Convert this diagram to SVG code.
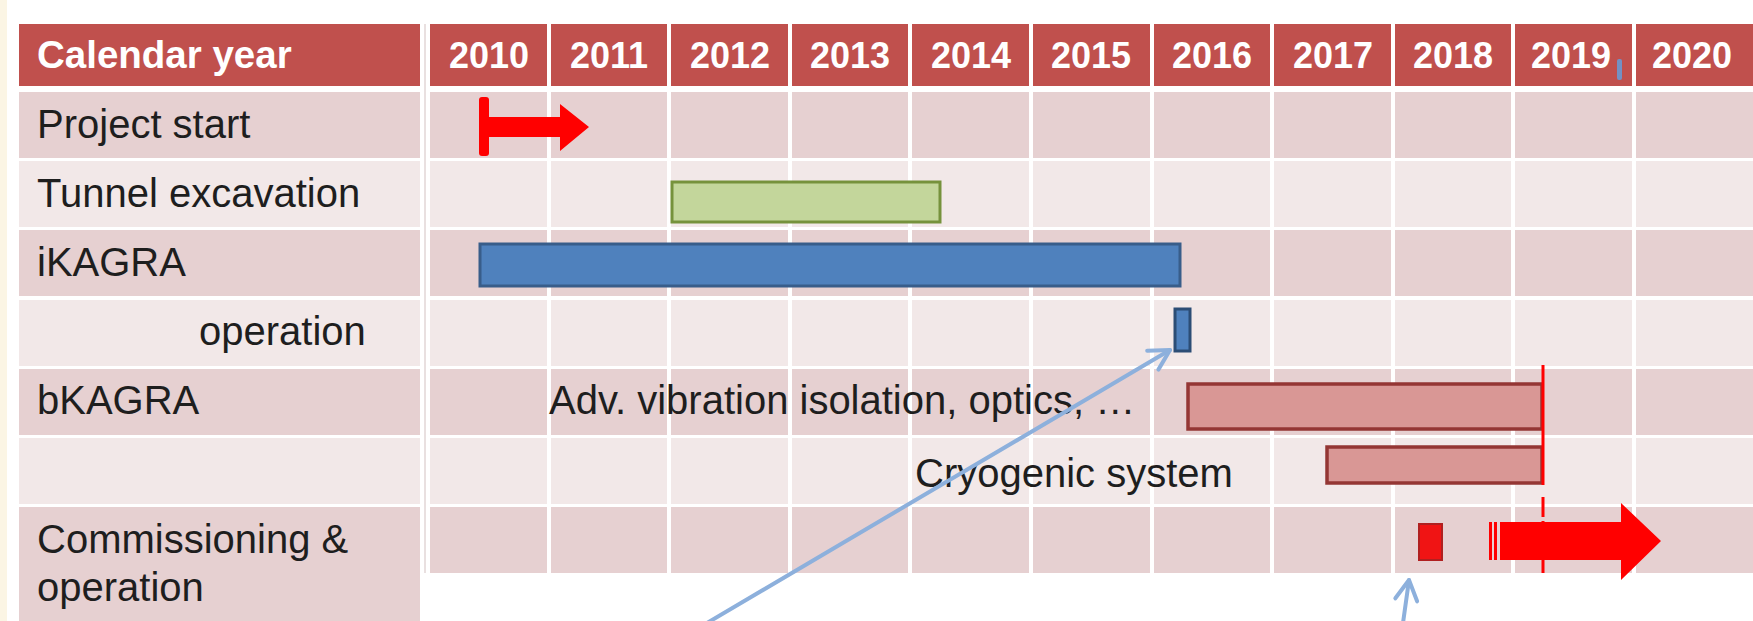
<svg xmlns="http://www.w3.org/2000/svg" width="1753" height="621" viewBox="0 0 1753 621">
<defs>
<style>
.hd{fill:#C0504D}
.dk{fill:#E6D0D1}
.lt{fill:#F2E8E8}
.ht{font-family:"Liberation Sans",Arial,sans-serif;font-weight:bold;font-size:38.5px;fill:#FFFFFF}
.yr{font-family:"Liberation Sans",Arial,sans-serif;font-weight:bold;font-size:36px;fill:#FFFFFF;text-anchor:middle}
.lb{font-family:"Liberation Sans",Arial,sans-serif;font-size:40px;fill:#1E1E1E}
.gap{stroke:#FFFFFF;stroke-width:4}
.red{fill:#FF0000}
.conn{fill:none;stroke:#8DB0DC;stroke-width:4;stroke-linecap:round}
</style>
<marker id="ah" viewBox="0 0 28 28" refX="24" refY="14" markerWidth="28" markerHeight="28" markerUnits="userSpaceOnUse" orient="auto">
<path d="M4,3 L24,14 L4,25" fill="none" stroke="#8DB0DC" stroke-width="4" stroke-linecap="round" stroke-linejoin="round"/>
</marker>
</defs>
<rect x="0" y="0" width="1753" height="621" fill="#FFFFFF"/>
<rect x="0" y="0" width="7" height="621" fill="#FBF5E4"/>

<g id="grid">
<rect class="hd" x="19" y="24" width="401" height="62"/>
<rect class="hd" x="430" y="24" width="1323" height="62"/>
<rect class="dk" x="19" y="92" width="401" height="66"/>
<rect class="dk" x="430" y="92" width="1323" height="66"/>
<rect class="lt" x="19" y="161" width="401" height="66"/>
<rect class="lt" x="430" y="161" width="1323" height="66"/>
<rect class="dk" x="19" y="230" width="401" height="66"/>
<rect class="dk" x="430" y="230" width="1323" height="66"/>
<rect class="lt" x="19" y="300" width="401" height="66"/>
<rect class="lt" x="430" y="300" width="1323" height="66"/>
<rect class="dk" x="19" y="369" width="401" height="66"/>
<rect class="dk" x="430" y="369" width="1323" height="66"/>
<rect class="lt" x="19" y="438" width="401" height="66"/>
<rect class="lt" x="430" y="438" width="1323" height="66"/>
<rect class="dk" x="19" y="507" width="401" height="114"/>
<rect class="dk" x="430" y="507" width="1323" height="66"/>
<line x1="425" y1="24" x2="425" y2="573" stroke="#E2D6D6" stroke-width="1.5"/>
<g class="gap">
<line x1="549" y1="24" x2="549" y2="573"/>
<line x1="669" y1="24" x2="669" y2="573"/>
<line x1="790" y1="24" x2="790" y2="573"/>
<line x1="910" y1="24" x2="910" y2="573"/>
<line x1="1031" y1="24" x2="1031" y2="573"/>
<line x1="1152" y1="24" x2="1152" y2="573"/>
<line x1="1272" y1="24" x2="1272" y2="573"/>
<line x1="1393" y1="24" x2="1393" y2="573"/>
<line x1="1513" y1="24" x2="1513" y2="573"/>
<line x1="1634" y1="24" x2="1634" y2="573"/>
</g>
</g>

<g id="header-text">
<text class="ht" x="37" y="68">Calendar year</text>
<text class="yr" x="489" y="68">2010</text>
<text class="yr" x="609" y="68">2011</text>
<text class="yr" x="730" y="68">2012</text>
<text class="yr" x="850" y="68">2013</text>
<text class="yr" x="971" y="68">2014</text>
<text class="yr" x="1091" y="68">2015</text>
<text class="yr" x="1212" y="68">2016</text>
<text class="yr" x="1333" y="68">2017</text>
<text class="yr" x="1453" y="68">2018</text>
<text class="yr" x="1571" y="68">2019</text>
<text class="yr" x="1692" y="68">2020</text>
<rect x="1617" y="59" width="5" height="21" rx="2" fill="#7391C4"/>
</g>

<g id="row-labels">
<text class="lb" x="37" y="138">Project start</text>
<text class="lb" x="37" y="207">Tunnel excavation</text>
<text class="lb" x="37" y="276">iKAGRA</text>
<text class="lb" x="199" y="345">operation</text>
<text class="lb" x="37" y="414">bKAGRA</text>
<text class="lb" x="37" y="553">Commissioning &amp;</text>
<text class="lb" x="37" y="601">operation</text>
</g>

<g id="project-start">
<rect class="red" x="479" y="97" width="10" height="59" rx="3"/>
<polygon class="red" points="489,117 560,117 560,104 589,127 560,151 560,137 489,137"/>
</g>

<g id="tunnel-excavation">
<rect x="672" y="182" width="268" height="40" fill="#C3D69B" stroke="#76923C" stroke-width="3"/>
</g>

<g id="ikagra">
<rect x="480" y="244" width="700" height="42" fill="#4F81BD" stroke="#385D8A" stroke-width="3"/>
</g>

<g id="ikagra-operation">
<rect x="1175" y="309" width="15" height="42" fill="#4F81BD" stroke="#2C4D75" stroke-width="3"/>
</g>

<g id="bkagra-adv">
<rect x="1188" y="384" width="354" height="45" fill="#D99795" stroke="#943634" stroke-width="3.5"/>
<text class="lb" x="549" y="414">Adv. vibration isolation, optics, …</text>
</g>

<g id="bkagra-cryo">
<rect x="1327" y="447" width="215" height="36" fill="#D99795" stroke="#943634" stroke-width="3.5"/>
<text class="lb" x="915" y="487">Cryogenic system</text>
</g>

<g id="milestone-line">
<line x1="1543" y1="365" x2="1543" y2="573" stroke="#FF0000" stroke-width="3" stroke-dasharray="120 12 20 4 80"/>
</g>

<g id="commissioning">
<rect x="1419" y="524" width="23" height="36" fill="#F01414" stroke="#B02020" stroke-width="2"/>
<rect class="red" x="1489" y="522" width="3" height="38"/>
<rect class="red" x="1494" y="522" width="3" height="38"/>
<polygon class="red" points="1500,522 1621,522 1621,503 1661,541 1621,580 1621,560 1500,560"/>
</g>

<g id="connectors">
<line class="conn" x1="707" y1="623" x2="1170" y2="350" marker-end="url(#ah)"/>
<line class="conn" x1="1403" y1="623" x2="1409" y2="580" marker-end="url(#ah)"/>
</g>
</svg>
